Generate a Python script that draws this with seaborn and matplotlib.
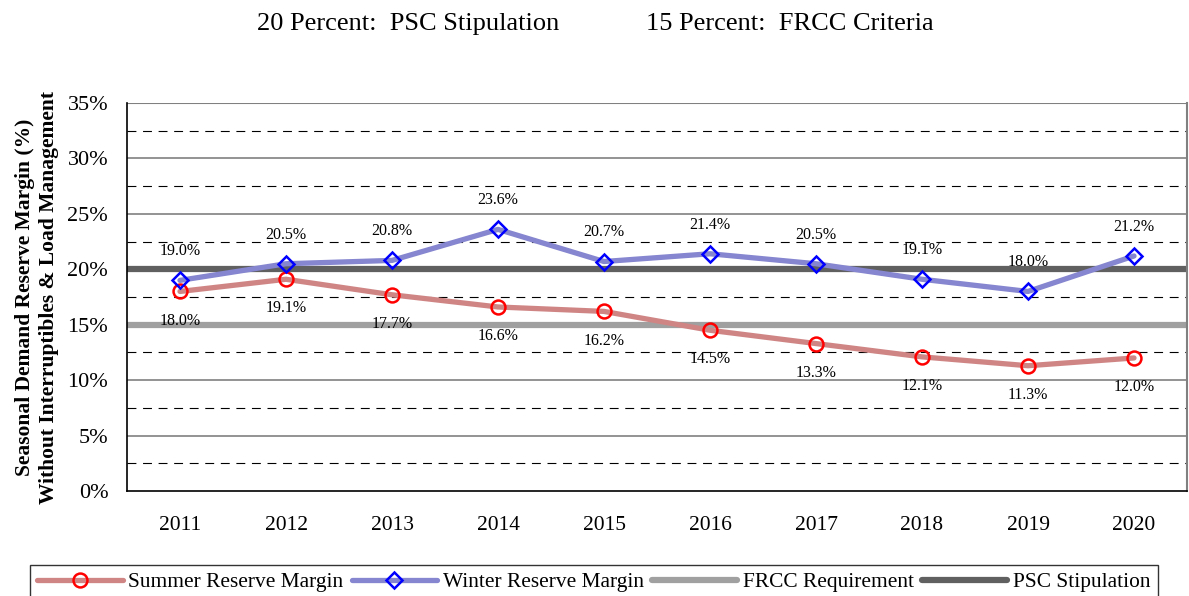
import matplotlib
matplotlib.use("Agg")
import matplotlib.pyplot as plt
import seaborn as sns
import pandas as pd
import numpy as np

years = ["2011", "2012", "2013", "2014", "2015", "2016", "2017", "2018", "2019", "2020"]
summer = [18.0, 19.1, 17.7, 16.6, 16.2, 14.5, 13.3, 12.1, 11.3, 12.0]
winter = [19.0, 20.5, 20.8, 23.6, 20.7, 21.4, 20.5, 19.1, 18.0, 21.2]
frcc_level = 15
psc_level = 20
yticks = [0, 5, 10, 15, 20, 25, 30, 35]

sns.set_style("white")
plt.rcParams['font.family'] = ['Liberation Serif', 'DejaVu Serif']
plt.rcParams['text.color'] = 'black'
plt.rcParams['axes.labelcolor'] = 'black'
plt.rcParams['xtick.color'] = 'black'
plt.rcParams['ytick.color'] = 'black'

df = pd.DataFrame({"pos": np.arange(len(years)), "year": years,
                   "summer": summer, "winter": winter})

fig = plt.figure(figsize=(11.89, 5.96), dpi=100)
ax = fig.add_axes([127/1189, 1 - 491/596, (1187-127)/1189, (491-103)/596])

# grid
for y in yticks[1:-1]:
    ax.axhline(y, color='#808080', lw=1.2, zorder=1)
ax.axhline(35, color='#808080', lw=1.5, zorder=1)
for y in np.arange(2.5, 35, 5):
    ax.axhline(y, color='black', lw=0.8, ls=(0, (8, 6)), zorder=1)

ax.axhline(frcc_level, color='#A0A0A0', lw=4.5, zorder=2, label='FRCC Requirement')
ax.axhline(psc_level, color='#606060', lw=4.5, zorder=2, label='PSC Stipulation')

sns.lineplot(data=df, x="pos", y="summer", ax=ax, color='#D08585', lw=3.8,
             marker='o', markersize=10, markerfacecolor='none',
             markeredgecolor='red', markeredgewidth=1.8,
             label='Summer Reserve Margin', zorder=3)
sns.lineplot(data=df, x="pos", y="winter", ax=ax, color='#8585D0', lw=3.8,
             marker='D', markersize=8, markerfacecolor='none',
             markeredgecolor='blue', markeredgewidth=1.8,
             label='Winter Reserve Margin', zorder=3)

for i, v in enumerate(summer):
    ax.annotate(f"{v:.1f}%", (i, v), xytext=(0, -21), textcoords='offset points',
                ha='center', va='center', fontsize=11.5, zorder=5)
for i, v in enumerate(winter):
    ax.annotate(f"{v:.1f}%", (i, v), xytext=(0, 21), textcoords='offset points',
                ha='center', va='center', fontsize=11.5, zorder=5)

ax.set_xlim(-0.5, len(years) - 0.5)
ax.set_ylim(0, 35)
ax.set_yticks(yticks)
ax.set_yticklabels([f"{t}%" for t in yticks], fontsize=16)
ax.set_xticks(np.arange(-0.5, len(years), 1.0))
ax.set_xticklabels([])
ax.set_xticks(np.arange(len(years)), minor=True)
ax.set_xticklabels(years, minor=True, fontsize=15.5)
ax.tick_params(axis='x', which='major', direction='out', length=6, color='black', width=1)
ax.tick_params(axis='x', which='minor', length=0, pad=18)
ax.tick_params(axis='y', direction='out', length=5, color='black', width=1, pad=8.5)
ax.set_xlabel("")
ax.set_ylabel("Seasonal Demand Reserve Margin (%)\nWithout Interruptibles & Load Management",
              fontsize=15.5, fontweight='bold', labelpad=6, linespacing=1.25)

for s in ['left', 'bottom']:
    ax.spines[s].set_color('black')
    ax.spines[s].set_linewidth(1.2)
for s in ['top', 'right']:
    ax.spines[s].set_color('#808080')
    ax.spines[s].set_linewidth(1.5)
ax.spines['top'].set_visible(False)

fig.text(408/1189, 1 - 24/596, "20 Percent:  PSC Stipulation", ha='center', va='center', fontsize=19)
fig.text(790/1189, 1 - 24/596, "15 Percent:  FRCC Criteria", ha='center', va='center', fontsize=19)

handles, labels = ax.get_legend_handles_labels()
order = ['Summer Reserve Margin', 'Winter Reserve Margin', 'FRCC Requirement', 'PSC Stipulation']
hmap = dict(zip(labels, handles))
if ax.get_legend():
    ax.get_legend().remove()
leg = fig.legend([hmap[o] for o in order], order, loc='upper left',
                 bbox_to_anchor=(30/1189, 1 - 565/596), ncol=4, fontsize=15.4,
                 frameon=True, fancybox=False, edgecolor='black', handlelength=4.0,
                 handletextpad=0.25, columnspacing=0.38, borderpad=0.35,
                 borderaxespad=0)
leg.get_frame().set_linewidth(1.0)

fig.savefig("out.png", dpi=100)
